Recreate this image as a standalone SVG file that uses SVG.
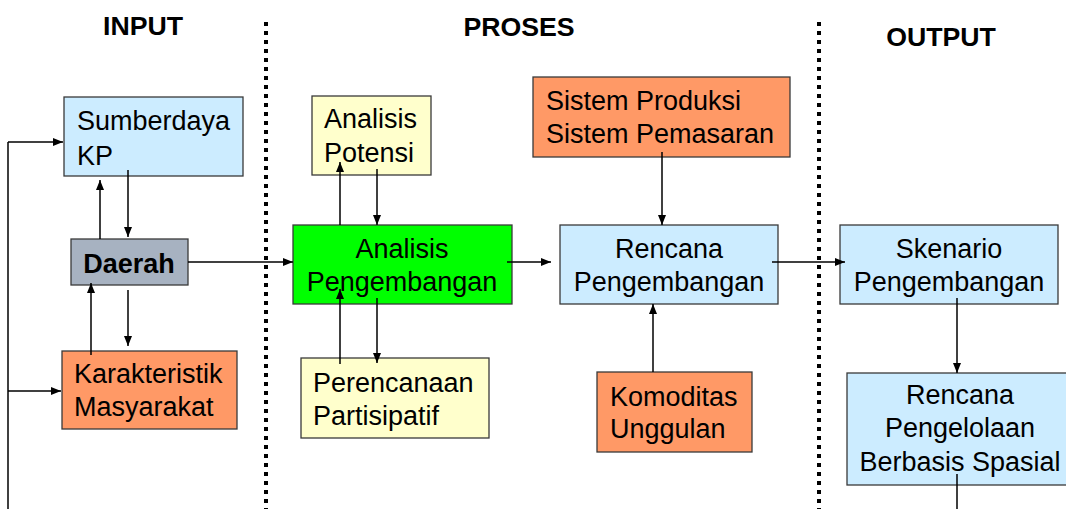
<svg xmlns="http://www.w3.org/2000/svg" width="1066" height="509" viewBox="0 0 1066 509">
<style>
  .box{stroke:#3a3a3a;stroke-width:1.3}
  .blue{fill:#CCECFF}
  .yel{fill:#FFFFCC}
  .org{fill:#FF9966}
  .grn{fill:#00FF00}
  .gry{fill:#A7B2C1}
  text{font-family:"Liberation Sans",Arial,sans-serif;font-size:27px;fill:#000}
  .c{text-anchor:middle}
  .h{font-weight:bold;font-size:26.7px}
  .con{stroke:#000;stroke-width:1.5;fill:none}
  .arr{marker-end:url(#ah)}
  .dot{stroke:#000;stroke-width:4;stroke-dasharray:4 5;fill:none}
</style>
<defs>
  <marker id="ah" markerUnits="userSpaceOnUse" markerWidth="10" markerHeight="10" viewBox="0 0 10 10" refX="10" refY="5" orient="auto">
    <path d="M0,1 L10,5 L0,9 Z" fill="#000"/>
  </marker>
</defs>
<rect width="1066" height="509" fill="#fff"/>

<g id="headers">
  <text class="h c" x="143" y="35">INPUT</text>
  <text class="h c" x="519" y="36">PROSES</text>
  <text class="h c" x="941" y="46">OUTPUT</text>
  <line class="dot" x1="266" y1="22" x2="266" y2="509"/>
  <line class="dot" x1="819" y1="22" x2="819" y2="509"/>
</g>

<g id="sumberdaya">
  <rect class="box blue" x="64" y="97" width="179" height="79"/>
  <text x="77" y="130">Sumberdaya</text>
  <text x="77" y="165">KP</text>
</g>
<g id="daerah">
  <rect class="box gry" x="71" y="239" width="117" height="46"/>
  <text class="c" x="129" y="273" font-weight="bold">Daerah</text>
</g>
<g id="karakteristik">
  <rect class="box org" x="62" y="351" width="175" height="78"/>
  <text x="74" y="383">Karakteristik</text>
  <text x="74" y="416">Masyarakat</text>
</g>
<g id="analisis-potensi">
  <rect class="box yel" x="312" y="96" width="119" height="79"/>
  <text x="324" y="128">Analisis</text>
  <text x="324" y="162">Potensi</text>
</g>
<g id="analisis-pengembangan">
  <rect class="box grn" x="293" y="225" width="219" height="79"/>
  <text class="c" x="402" y="258">Analisis</text>
  <text class="c" x="402" y="291">Pengembangan</text>
</g>
<g id="perencanaan">
  <rect class="box yel" x="301" y="358" width="188" height="80"/>
  <text x="313" y="392">Perencanaan</text>
  <text x="313" y="425">Partisipatif</text>
</g>
<g id="sistem">
  <rect class="box org" x="533" y="77" width="257" height="80"/>
  <text x="546" y="110">Sistem Produksi</text>
  <text x="546" y="143">Sistem Pemasaran</text>
</g>
<g id="rencana-pengembangan">
  <rect class="box blue" x="560" y="225" width="218" height="79"/>
  <text class="c" x="669" y="258">Rencana</text>
  <text class="c" x="669" y="291">Pengembangan</text>
</g>
<g id="komoditas">
  <rect class="box org" x="597" y="372" width="155" height="80"/>
  <text x="610" y="406">Komoditas</text>
  <text x="610" y="438">Unggulan</text>
</g>
<g id="skenario">
  <rect class="box blue" x="840" y="225" width="218" height="79"/>
  <text class="c" x="949" y="258">Skenario</text>
  <text class="c" x="949" y="291">Pengembangan</text>
</g>
<g id="rencana-pengelolaan">
  <rect class="box blue" x="847" y="373" width="222" height="112"/>
  <text class="c" x="960" y="404">Rencana</text>
  <text class="c" x="960" y="437">Pengelolaan</text>
  <text class="c" x="960" y="471">Berbasis Spasial</text>
</g>

<g id="connectors">
  <path class="con" d="M8,509 L8,142"/>
  <path class="con arr" d="M8,142 L63,142"/>
  <path class="con arr" d="M8,391 L61,391"/>
  <path class="con arr" d="M100,239 L100,180"/>
  <path class="con arr" d="M128,170 L128,237"/>
  <path class="con arr" d="M91,355 L91,283"/>
  <path class="con arr" d="M128,290 L128,346"/>
  <path class="con arr" d="M188,262 L293,262"/>
  <path class="con arr" d="M340,225 L340,162"/>
  <path class="con arr" d="M377,169 L377,225"/>
  <path class="con arr" d="M340,364 L340,289"/>
  <path class="con arr" d="M377,298 L377,363"/>
  <path class="con arr" d="M507,262 L551,262"/>
  <path class="con arr" d="M662,152 L662,225"/>
  <path class="con arr" d="M653,372 L653,304"/>
  <path class="con arr" d="M772,262 L845,262"/>
  <path class="con arr" d="M957,298 L957,373"/>
  <path class="con" d="M957,474 L957,509"/>
</g>
</svg>
